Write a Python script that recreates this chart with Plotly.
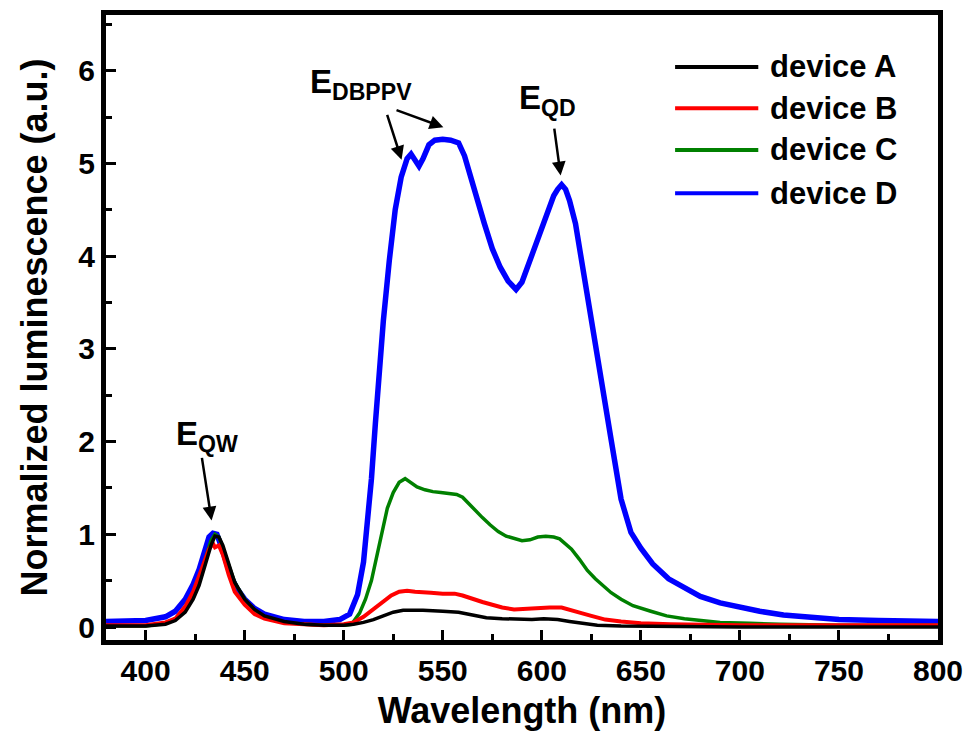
import plotly.graph_objects as go

# ---------------- data ----------------
wl_A = [380, 400, 410, 415, 420, 424, 427, 430, 433, 435, 437, 439, 442, 445, 450, 455, 460, 470, 480, 490,
        500, 505, 510, 515, 520, 525, 530, 540, 550, 558, 565, 572, 580, 588, 595, 601, 608, 614, 620, 628,
        640, 700, 800]
lum_A = [0.01, 0.01, 0.03, 0.07, 0.16, 0.30, 0.45, 0.66, 0.88, 0.98, 0.97, 0.88, 0.67, 0.48, 0.30, 0.19, 0.12, 0.06, 0.03, 0.02,
         0.02, 0.03, 0.05, 0.08, 0.12, 0.16, 0.18, 0.18, 0.17, 0.16, 0.13, 0.10, 0.09, 0.08, 0.08, 0.09, 0.08, 0.06, 0.04, 0.02,
         0.01, 0.00, 0.00]

wl_B = [380, 400, 410, 415, 420, 424, 427, 430, 432, 434, 435, 437, 439, 442, 445, 450, 455, 460, 470, 480,
        490, 500, 505, 510, 515, 520, 524, 528, 532, 536, 540, 544, 550, 556, 560, 565, 570, 575, 580, 586,
        592, 598, 604, 610, 614, 620, 625, 632, 640, 650, 665, 700, 800]
lum_B = [0.02, 0.02, 0.05, 0.09, 0.22, 0.38, 0.55, 0.72, 0.84, 0.90, 0.86, 0.88, 0.78, 0.56, 0.38, 0.24, 0.14, 0.09, 0.04, 0.03,
         0.02, 0.03, 0.05, 0.11, 0.19, 0.28, 0.34, 0.38, 0.39, 0.38, 0.38, 0.37, 0.36, 0.36, 0.34, 0.30, 0.27, 0.24, 0.21, 0.19,
         0.20, 0.21, 0.21, 0.21, 0.19, 0.15, 0.12, 0.08, 0.06, 0.04, 0.03, 0.02, 0.02]

wl_C = [380, 400, 410, 415, 420, 424, 427, 430, 433, 435, 437, 439, 442, 445, 450, 455, 460, 470, 480, 490,
        500, 504, 508, 511, 514, 517, 519, 522, 525, 528, 531, 534, 537, 541, 545, 549, 553, 557, 560, 563,
        566, 570, 574, 578, 582, 586, 590, 594, 598, 602, 606, 609, 612, 615, 619, 623, 627, 631, 635, 640,
        646, 655, 663, 672, 680, 690, 705, 720, 750, 800]
lum_C = [0.01, 0.01, 0.04, 0.09, 0.20, 0.36, 0.52, 0.72, 0.93, 1.00, 0.97, 0.85, 0.65, 0.48, 0.30, 0.18, 0.11, 0.05, 0.03, 0.02,
         0.02, 0.03, 0.15, 0.30, 0.50, 0.80, 1.00, 1.28, 1.45, 1.56, 1.60, 1.56, 1.51, 1.48, 1.46, 1.45, 1.44, 1.43, 1.40, 1.33,
         1.26, 1.18, 1.10, 1.03, 0.98, 0.95, 0.93, 0.94, 0.97, 0.98, 0.97, 0.95, 0.90, 0.84, 0.73, 0.61, 0.52, 0.44, 0.37, 0.30,
         0.23, 0.17, 0.12, 0.09, 0.07, 0.05, 0.04, 0.03, 0.02, 0.02]

wl_D = [380, 390, 400, 410, 415, 420, 424, 427, 430, 432, 434, 436, 438, 440, 443, 446, 450, 455, 460, 470,
        480, 490, 498, 503, 507, 510, 512, 514, 516, 518, 520, 523, 526, 529, 532, 534, 536, 538, 540, 543,
        546, 550, 554, 558, 561, 564, 567, 571, 575, 579, 583, 587, 590, 593, 597, 600, 603, 606, 608, 610,
        612, 614, 617, 620, 623, 627, 631, 635, 640, 645, 650, 656, 664, 672, 680, 690, 700, 710, 722, 735,
        750, 770, 800]
lum_D = [0.06, 0.06, 0.07, 0.11, 0.17, 0.30, 0.46, 0.62, 0.82, 0.97, 1.01, 1.00, 0.88, 0.74, 0.55, 0.42, 0.30, 0.20, 0.14, 0.08,
         0.06, 0.06, 0.08, 0.14, 0.35, 0.70, 1.10, 1.60, 2.20, 2.80, 3.30, 3.95, 4.50, 4.85, 5.05, 5.10, 5.02, 4.97, 5.05, 5.20,
         5.25, 5.26, 5.25, 5.22, 5.08, 4.85, 4.62, 4.35, 4.08, 3.88, 3.73, 3.64, 3.72, 3.90, 4.15, 4.32, 4.50, 4.65, 4.72, 4.77,
         4.72, 4.60, 4.35, 3.95, 3.55, 3.00, 2.50, 2.02, 1.38, 1.02, 0.85, 0.68, 0.52, 0.42, 0.33, 0.26, 0.21, 0.17, 0.13, 0.10,
         0.08, 0.07, 0.06]

series_names = ["device A", "device B", "device C", "device D"]
series_colors = ["#000000", "#ff0000", "#008000", "#0000ff"]
series_widths = [3.5, 4, 3.5, 5.5]
x_ticks = [400, 450, 500, 550, 600, 650, 700, 750, 800]
y_ticks = [0, 1, 2, 3, 4, 5, 6]

xs = [wl_A, wl_B, wl_C, wl_D]
ys = [lum_A, lum_B, lum_C, lum_D]

FONT = "Liberation Sans, Arial, sans-serif"

fig = go.Figure()
# draw D first so that A ends up on top
for i in [3, 2, 1, 0]:
    fig.add_trace(go.Scatter(x=xs[i], y=ys[i], mode="lines", name=series_names[i],
                             line=dict(color=series_colors[i], width=series_widths[i]),
                             showlegend=False))

fig.update_layout(
    width=972, height=731,
    margin=dict(l=106, r=34, t=15, b=91),
    paper_bgcolor="white", plot_bgcolor="white",
    font=dict(family=FONT, color="black"),
    showlegend=False,
)

fig.update_xaxes(
    range=[380, 800], tickvals=x_ticks, ticktext=[str(v) for v in x_ticks],
    showgrid=False, zeroline=False, automargin=False,
    showline=True, linewidth=5, linecolor="black", mirror=True,
    ticks="inside", ticklen=10, tickwidth=3, tickcolor="black",
    minor=dict(dtick=25, tick0=0, ticks="inside", ticklen=6, tickwidth=3, tickcolor="black"),
    tickfont=dict(size=30, family=FONT, weight="bold"),
    title=dict(text="Wavelength (nm)", font=dict(size=36, family=FONT, weight="bold"), standoff=20),
)
fig.update_yaxes(
    range=[-0.14, 6.6], tickvals=y_ticks, ticktext=[str(v) for v in y_ticks],
    showgrid=False, zeroline=False, automargin=False,
    showline=True, linewidth=5, linecolor="black", mirror=True,
    ticks="inside", ticklen=10, tickwidth=3, tickcolor="black",
    minor=dict(dtick=0.5, tick0=0, ticks="inside", ticklen=6, tickwidth=3, tickcolor="black"),
    tickfont=dict(size=30, family=FONT, weight="bold"),
    title=dict(text="Normalized luminescence (a.u.)", font=dict(size=36, family=FONT, weight="bold"), standoff=21),
)

# legend drawn manually (long sample lines as in the reference)
leg_rows = [0.917, 0.851, 0.784, 0.715]
for i in range(4):
    fig.add_shape(type="line", xref="paper", yref="paper",
                  x0=0.684, x1=0.784, y0=leg_rows[i], y1=leg_rows[i],
                  line=dict(color=series_colors[i], width=4))
    fig.add_annotation(xref="paper", yref="paper", x=0.796, y=leg_rows[i],
                       xanchor="left", yanchor="middle", showarrow=False,
                       text=series_names[i],
                       font=dict(size=31, family=FONT, weight="bold", color="black"))

# peak labels
labels = [("E<sub>QW</sub>", 431.2, 2.06), ("E<sub>DBPPV</sub>", 508.7, 5.86), ("E<sub>QD</sub>", 602.9, 5.68)]
for t, lx, ly in labels:
    fig.add_annotation(x=lx, y=ly, xref="x", yref="y", text=t, showarrow=False,
                       xanchor="center", yanchor="middle",
                       font=dict(size=33, family=FONT, weight="bold", color="black"))

arrows = [((428.3, 1.84), (433.3, 1.15)),
          ((521.7, 5.54), (529.2, 5.04)),
          ((525.9, 5.58), (550.3, 5.39)),
          ((606.2, 5.39), (609.5, 4.87))]
for (tx, ty), (hx, hy) in arrows:
    fig.add_annotation(x=hx, y=hy, ax=tx, ay=ty, xref="x", yref="y", axref="x", ayref="y",
                       text="", showarrow=True, arrowhead=2, arrowsize=1.1, arrowwidth=2.5,
                       arrowcolor="black", standoff=0, startstandoff=0)

fig.write_html("out.html")
